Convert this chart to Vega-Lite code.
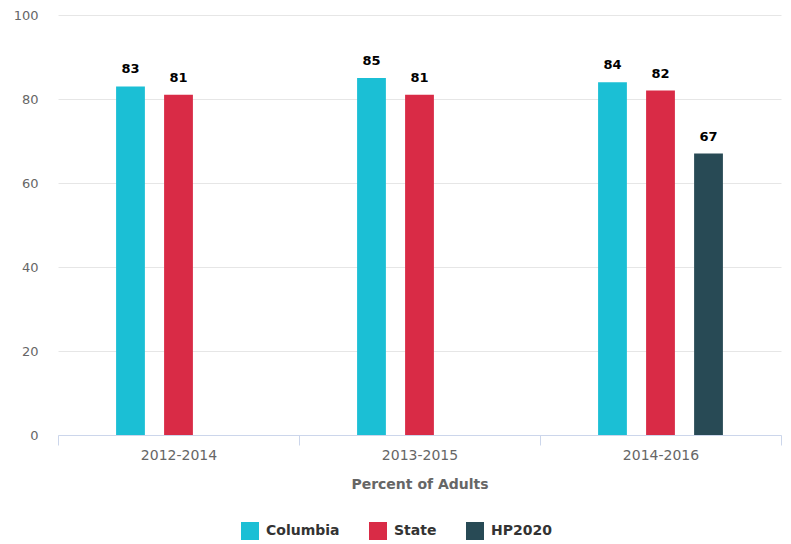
{
  "$schema": "https://vega.github.io/schema/vega-lite/v6.json",
  "width": 723,
  "height": 420,
  "autosize": {"type": "none"},
  "padding": {"left": 58, "top": 15, "right": 10, "bottom": 109},
  "config": {
    "font": "DejaVu Sans",
    "view": {"stroke": null},
    "axis": {"labelColor": "#666666", "labelFontSize": 13, "titleColor": "#666666"}
  },
  "data": {
    "values": [
      {"period": "2012-2014", "series": "Columbia", "value": 83},
      {"period": "2012-2014", "series": "State", "value": 81},
      {"period": "2013-2015", "series": "Columbia", "value": 85},
      {"period": "2013-2015", "series": "State", "value": 81},
      {"period": "2014-2016", "series": "Columbia", "value": 84},
      {"period": "2014-2016", "series": "State", "value": 82},
      {"period": "2014-2016", "series": "HP2020", "value": 67}
    ]
  },
  "encoding": {
    "x": {
      "field": "period",
      "type": "nominal",
      "scale": {"paddingInner": 0, "paddingOuter": 0},
      "axis": {
        "title": "Percent of Adults",
        "titleFontSize": 14,
        "titleFontWeight": "bold",
        "titlePadding": 15,
        "labelAngle": 0,
        "labelFontSize": 14,
        "labelPadding": 3,
        "domainColor": "#ccd6eb",
        "tickColor": "#ccd6eb",
        "tickBand": "extent",
        "tickSize": 10,
        "grid": false
      }
    },
    "xOffset": {
      "field": "series",
      "type": "nominal",
      "scale": {
        "domain": ["gap_left", "Columbia", "State", "HP2020", "gap_right"],
        "paddingInner": 0.4,
        "paddingOuter": 0.21
      }
    },
    "y": {
      "field": "value",
      "type": "quantitative",
      "scale": {"domain": [0, 100]},
      "axis": {
        "title": null,
        "values": [0, 20, 40, 60, 80, 100],
        "domain": false,
        "ticks": false,
        "labelPadding": 20,
        "gridColor": "#e6e6e6"
      }
    }
  },
  "layer": [
    {
      "mark": {"type": "bar"},
      "encoding": {
        "color": {
          "field": "series",
          "type": "nominal",
          "scale": {
            "domain": ["Columbia", "State", "HP2020"],
            "range": ["#1bbfd5", "#d92b46", "#284a55"]
          },
          "legend": {
            "title": null,
            "orient": "none",
            "direction": "horizontal",
            "legendX": 183,
            "legendY": 507,
            "symbolType": "square",
            "symbolSize": 324,
            "symbolStrokeWidth": 0,
            "symbolOpacity": 1,
            "labelFontSize": 14,
            "labelFontWeight": "bold",
            "labelColor": "#333333",
            "columnPadding": 29,
            "labelOffset": 7
          }
        }
      }
    },
    {
      "mark": {"type": "text", "dy": -17, "fontSize": 13, "fontWeight": "bold", "color": "#000000"},
      "encoding": {"text": {"field": "value", "type": "quantitative"}}
    }
  ]
}
